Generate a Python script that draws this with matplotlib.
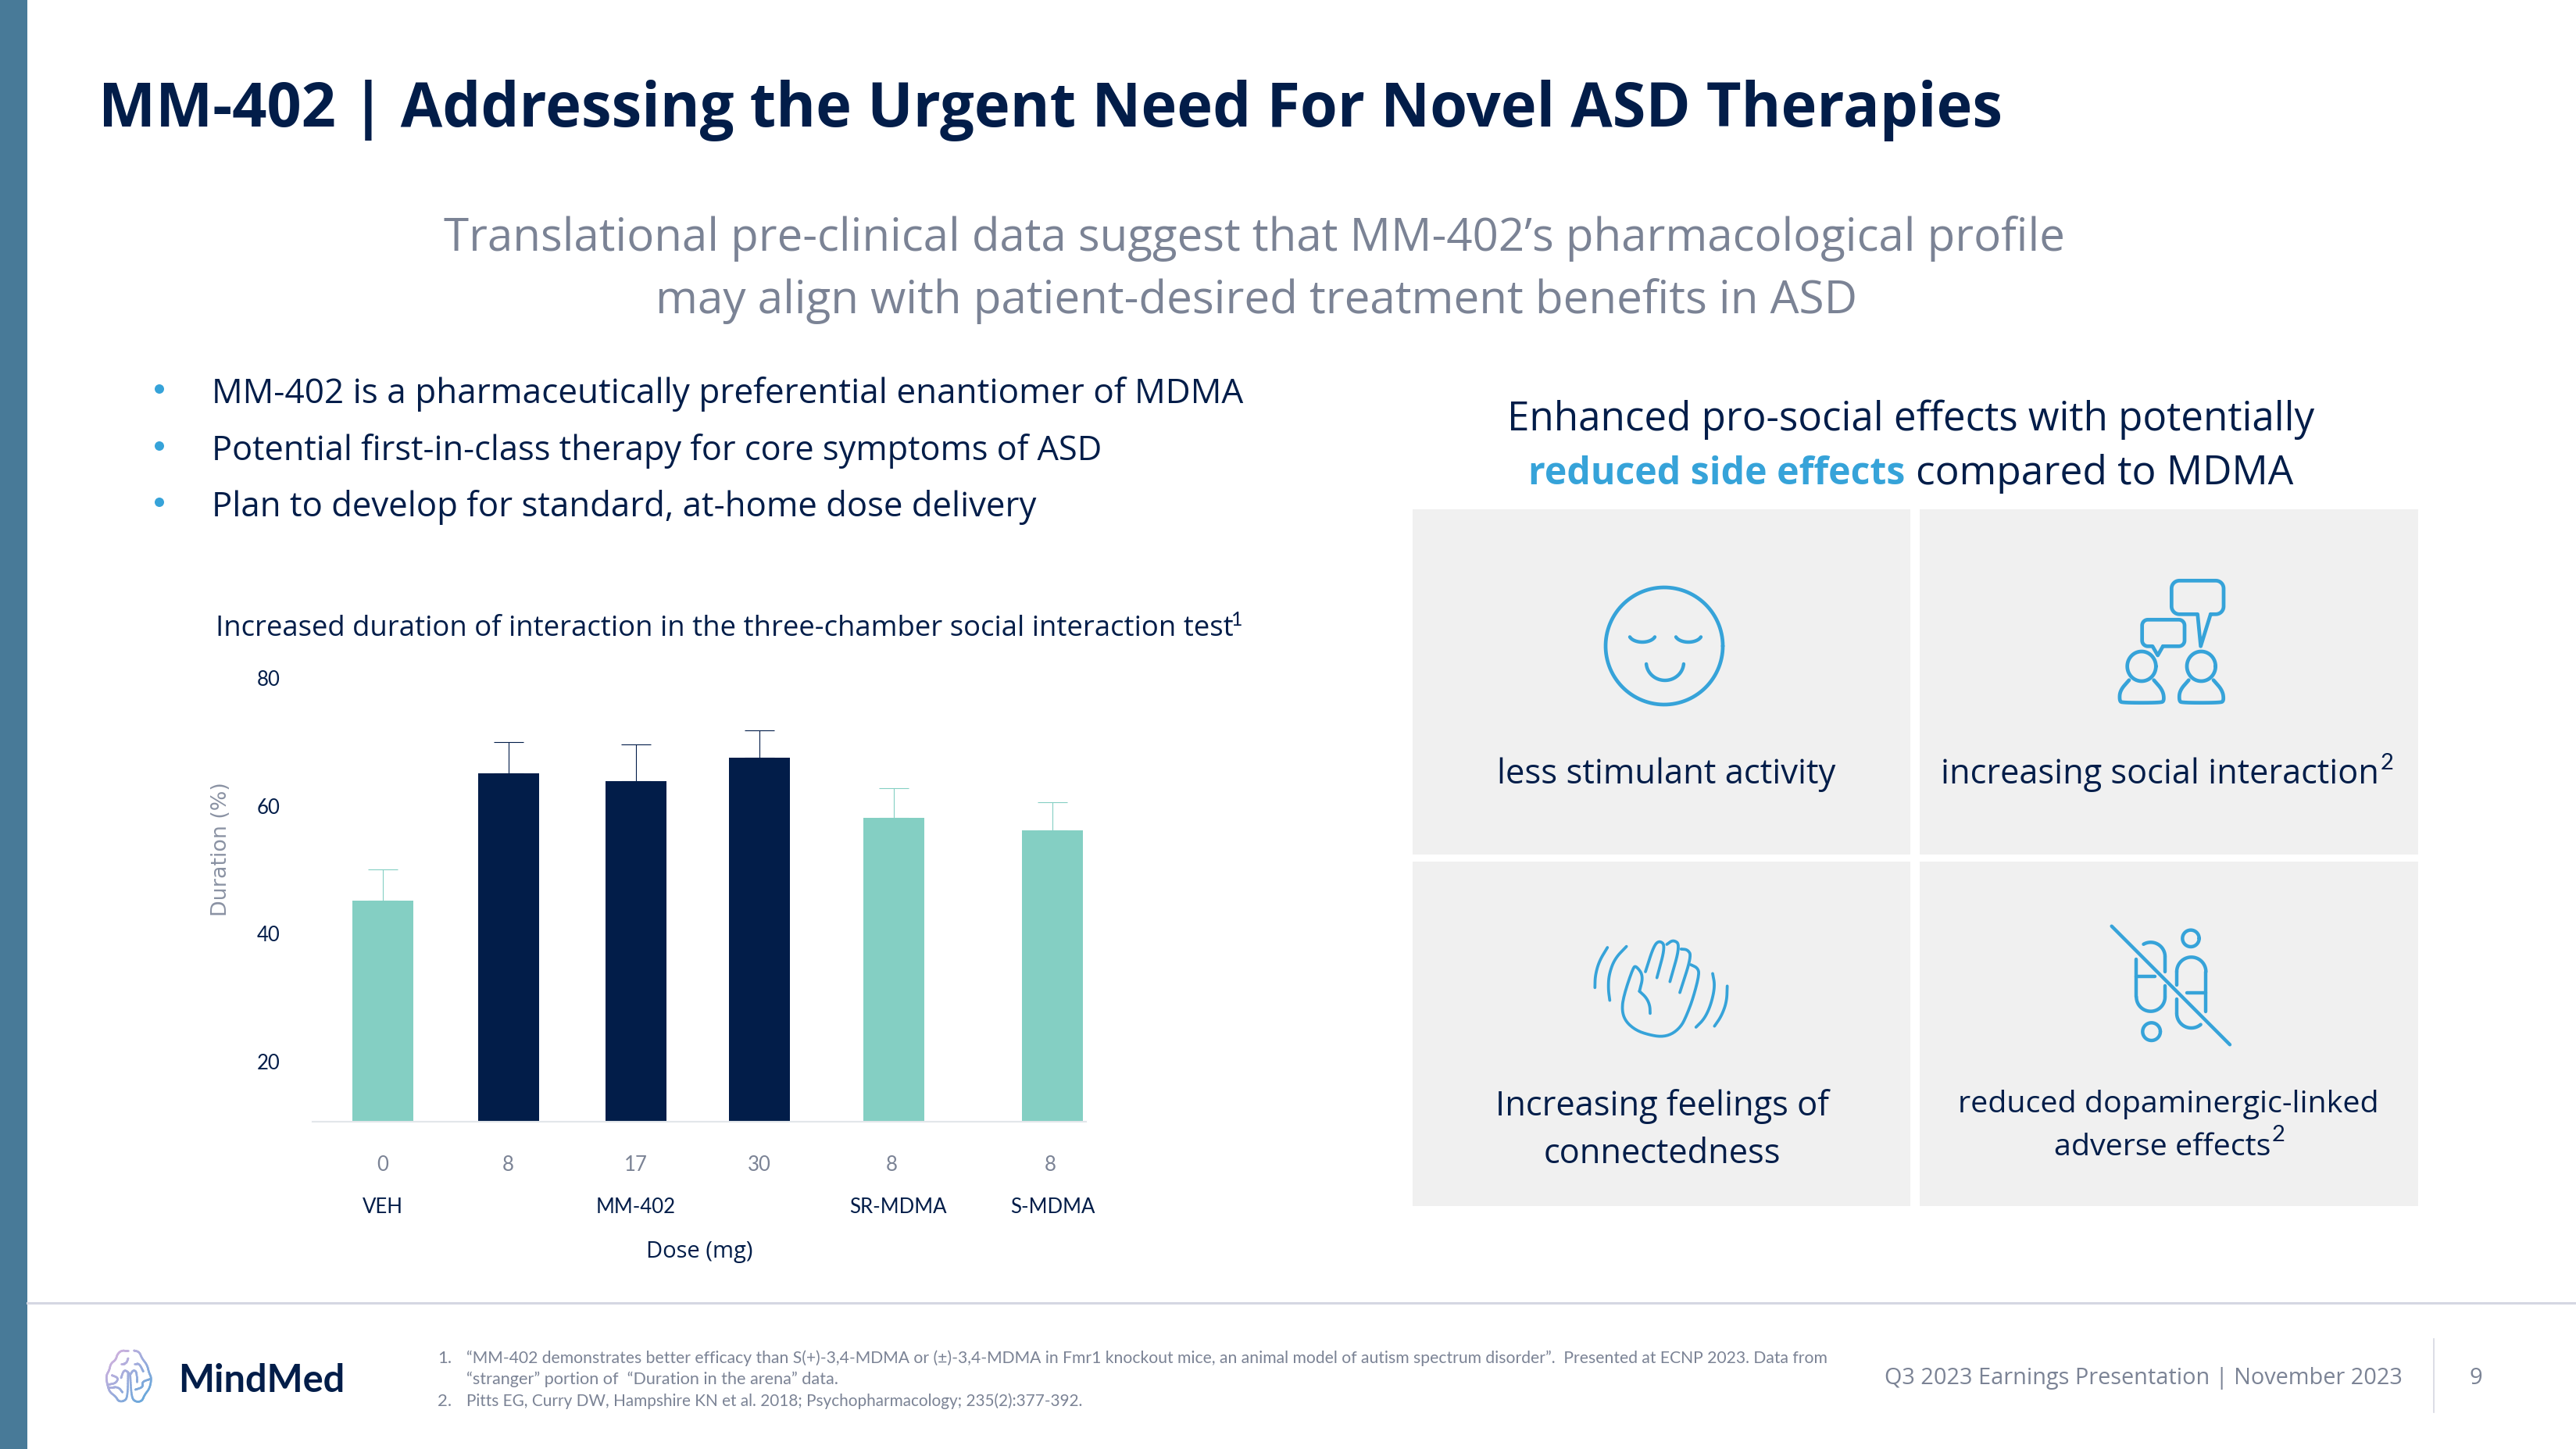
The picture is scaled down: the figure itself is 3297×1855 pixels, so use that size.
import numpy as np
import matplotlib
matplotlib.use("Agg")
import matplotlib.pyplot as plt
from matplotlib.patches import Rectangle, Circle
from matplotlib.collections import LineCollection
from matplotlib.colors import to_rgb

# ---------- chart data ----------
dose_labels = ["0", "8", "17", "30", "8", "8"]
dose_slots = [0, 1.0, 2.025, 3.01, 4.07, 5.34]
group_labels = ["VEH", "MM-402", "SR-MDMA", "S-MDMA"]
group_slots = [0, 2.025, 4.12, 5.356]
bar_slots = [0, 1.006, 2.025, 3.01, 4.09, 5.356]
duration = [45.1, 65.0, 63.7, 67.4, 58.0, 56.0]
err_top = [50.0, 69.8, 69.5, 71.7, 62.7, 60.4]
y_ticks = [20, 40, 60, 80]
is_mm402 = [False, True, True, True, False, False]

NAVY = "#021D49"
TEAL = "#84CFC3"
GRAY = "#7B8395"
BLUE = "#36A3D9"
PANEL = "#F0F0F0"
BAND = "#487A98"
RULE = "#D5D7E2"
W, H = 3298, 1856
FONT = "Open Sans"
NARROW = "Lato"

fig = plt.figure(figsize=(W / 100, H / 100), dpi=100, facecolor="white")
ov = fig.add_axes([0, 0, 1, 1])
ov.set_xlim(0, W)
ov.set_ylim(H, 0)
ov.axis("off")
rend = fig.canvas.get_renderer()


def T(x0, x1, base, s, color=NAVY, weight="normal", family=FONT, size=30):
    """Text from x0 to x1 at a baseline, font size fitted to that width."""
    t = ov.text(x0, base, s, color=color, weight=weight, family=family,
                fontsize=size, ha="left", va="baseline")
    for _ in range(3):
        w = t.get_window_extent(rend).width
        t.set_fontsize(t.get_fontsize() * (x1 - x0) / w)
    return t


# ---------- slide furniture ----------
ov.add_patch(Rectangle((0, 0), 35, H, color=BAND, lw=0))
ov.plot([35, W], [1669, 1669], color=RULE, lw=2.2)
ov.plot([3115, 3115], [1715, 1809], color=RULE, lw=1.2)

T(126, 2562, 162, "MM-402 | Addressing the Urgent Need For Novel ASD Therapies", weight="bold")
T(568, 2646, 321, "Translational pre-clinical data suggest that MM-402\u2019s pharmacological profile", GRAY)
T(839, 2379, 401, "may align with patient-desired treatment benefits in ASD", GRAY)

bullets = [("MM-402 is a pharmaceutically preferential enantiomer of MDMA", 1592, 516),
           ("Potential first-in-class therapy for core symptoms of ASD", 1411, 589),
           ("Plan to develop for standard, at-home dose delivery", 1323, 661)]
for s, x1, b in bullets:
    T(271, x1, b, s)
    ov.add_patch(Circle((204, b - 17), 6, color=BLUE, lw=0))

T(1929, 2961, 551, "Enhanced pro-social effects with potentially")
T(1956, 2438, 620, "reduced side effects", BLUE, "bold")
T(2452, 2936, 620, "compared to MDMA")

T(276, 1575, 814, "Increased duration of interaction in the three-chamber social interaction test")
ov.text(1576, 801, "1", color=NAVY, family=NARROW, fontsize=18, ha="left", va="baseline")

# ---------- panels ----------
for x0, x1 in [(1808, 2445), (2457, 3095)]:
    for y0, y1 in [(653, 1095), (1104, 1545)]:
        ov.add_patch(Rectangle((x0, y0), x1 - x0, y1 - y0, color=PANEL, lw=0))

T(1916, 2351, 1003, "less stimulant activity")
T(2484, 3045, 1003, "increasing social interaction")
ov.text(3047, 985, "2", color=NAVY, family=NARROW, fontsize=21, ha="left", va="baseline")
T(1914, 2341, 1428, "Increasing feelings of")
T(1976, 2278, 1489, "connectedness")
T(2506, 3045, 1424, "reduced dopaminergic-linked")
T(2629, 2906, 1479, "adverse effects")
ov.text(2908, 1461, "2", color=NAVY, family=NARROW, fontsize=21, ha="left", va="baseline")


# ---------- icons ----------
def chaikin(pts, n=3):
    p = np.asarray(pts, float)
    for _ in range(n):
        q = 0.75 * p[:-1] + 0.25 * p[1:]
        r = 0.25 * p[:-1] + 0.75 * p[1:]
        m = np.empty((2 * len(q), 2))
        m[0::2], m[1::2] = q, r
        p = np.vstack([p[0], m, p[-1]])
    return p


def stroke(pts, org, lw=2.7, smooth=True, scale=3.0, color=BLUE):
    p = chaikin(pts) if smooth else np.asarray(pts, float)
    ov.plot(org[0] + p[:, 0] / scale, org[1] + p[:, 1] / scale, color=color, lw=lw,
            solid_capstyle="round", solid_joinstyle="round")


def arc(cx, cy, rx, ry, a0, a1, n=40):
    a = np.radians(np.linspace(a0, a1, n))
    return np.column_stack([cx + rx * np.cos(a), cy + ry * np.sin(a)])


# smiley
o = (0, 0)
stroke(arc(2130, 828, 75, 75, 0, 360, 120), o, 3.4, False, 1)
stroke(arc(2102, 813, 17, 10, 160, 20), o, 3.2, False, 1)
stroke(arc(2161, 813, 17, 10, 160, 20), o, 3.2, False, 1)
stroke(arc(2131, 849, 24, 23, 175, 5), o, 3.2, False, 1)

# people and speech bubbles
o = (2700, 730)


def bubble(x0, y0, x1, y1, r, tl, tip, tr):
    p = [np.array([[tr, y1]]), arc(x1 - r, y1 - r, r, r, 90, 0, 10), arc(x1 - r, y0 + r, r, r, 0, -90, 10),
         arc(x0 + r, y0 + r, r, r, -90, -180, 10), arc(x0 + r, y1 - r, r, r, 180, 90, 10),
         np.array([[tl, y1], tip, [tr, y1]])]
    return np.vstack(p)


stroke(bubble(238, 43, 438, 172, 30, 338, (350, 295), 388), o, 3.4, False)
stroke(bubble(125, 193, 288, 295, 22, 165, (185, 330), 205), o, 3.4, False)
for dx in (0, 229):
    stroke(arc(123 + dx, 372, 55, 57, 0, 360, 60), o, 3.4, False)
    stroke([(75 + dx, 425), (40 + dx, 465), (38 + dx, 505), (50 + dx, 512), (195 + dx, 512),
            (210 + dx, 505), (205 + dx, 465), (170 + dx, 425)], o, 3.4)

# waving hand
o = (2020, 1190)
stroke([(235, 240), (250, 180), (222, 142), (210, 150), (172, 265), (168, 320), (185, 360), (225, 392),
        (275, 408), (320, 415), (360, 405), (395, 375), (415, 335), (440, 270), (465, 175), (458, 150),
        (432, 138)], o)
stroke([(258, 165), (290, 65), (312, 45), (335, 65), (302, 188)], o)
stroke([(340, 60), (365, 42), (392, 62), (352, 203)], o)
stroke([(395, 78), (420, 80), (435, 105), (390, 245)], o)
stroke([(235, 240), (262, 265), (275, 295), (276, 325)], o)
stroke([(112, 72), (80, 125), (65, 180), (64, 226)], o)
stroke([(185, 68), (140, 115), (118, 175), (115, 230), (121, 275)], o)
stroke([(516, 172), (525, 220), (510, 290), (485, 345), (452, 378)], o)
stroke([(572, 220), (570, 280), (550, 335), (523, 374)], o)

# crossed-out pills
o = (2690, 1170)
stroke([(38, 50), (492, 505)], o, 3.2, False)
stroke(arc(342, 97, 32, 32, 0, 360, 60), o, 3.2, False)
stroke(arc(191, 455, 34, 34, 0, 360, 60), o, 3.2, False)
for seg in ([(132, 178), (132, 243), (205, 243)], [(243, 225), (243, 167)], [(132, 243), (132, 322)],
            [(288, 275), (288, 225)], [(400, 225), (400, 378)], [(328, 307), (400, 307)], [(288, 330), (288, 385)],
            [(243, 280), (243, 322)]):
    stroke(seg, o, 3.2, False)
stroke(arc(188, 167, 55, 55, -120, 0), o, 3.2, False)
stroke(arc(188, 322, 55, 55, 0, 180), o, 3.2, False)
stroke(arc(344, 225, 56, 56, 180, 360), o, 3.2, False)
stroke(arc(344, 385, 56, 56, 180, 50), o, 3.2, False)

# ---------- brain logo ----------
o = np.array([120, 1715])
c0, c1 = np.array(to_rgb("#E2B2DE")), np.array(to_rgb("#5AA6DA"))
brain = [
    [(132, 45), (105, 45), (90, 60), (85, 80), (65, 95), (60, 120), (48, 140), (50, 165), (55, 185), (62, 205),
     (85, 222), (95, 240), (115, 240), (130, 225), (132, 130)],
    [(155, 45), (175, 50), (185, 75), (205, 100), (212, 130), (222, 150), (215, 190), (195, 215), (185, 240),
     (160, 242), (145, 225), (140, 140)],
    [(105, 95), (125, 95), (132, 75)], [(70, 140), (95, 150), (85, 170), (60, 175)],
    [(105, 150), (115, 120), (130, 125), (140, 140), (150, 120), (165, 125), (165, 165)],
    [(190, 125), (175, 95), (155, 95)], [(215, 155), (185, 165), (190, 185), (160, 195)],
    [(55, 185), (95, 185), (110, 205)]]
for b in brain:
    p = chaikin(b) / 3.0 + o
    segs = np.stack([p[:-1], p[1:]], axis=1)
    f = np.clip(((p[:-1, 0] - 134) / 61 + (p[:-1, 1] - 1728) / 68) / 2, 0, 1)[:, None]
    ov.add_collection(LineCollection(segs, colors=c0 * (1 - f) + c1 * f, linewidths=1.9, capstyle="round"))

T(228, 441, 1782, "MindMed", weight="bold", family=NARROW)

# ---------- footer ----------
ov.text(560, 1745, "1.", color=GRAY, family=NARROW, fontsize=16, ha="left", va="baseline")
ov.text(560, 1800, "2.", color=GRAY, family=NARROW, fontsize=16, ha="left", va="baseline")
T(597, 2332, 1745, "\u201cMM-402 demonstrates better efficacy than S(+)-3,4-MDMA or (\u00b1)-3,4-MDMA in Fmr1 knockout mice, "
  "an animal model of autism spectrum disorder\u201d.  Presented at ECNP 2023. Data from", GRAY, family=NARROW)
T(597, 1072, 1772, "\u201cstranger\u201d portion of  \u201cDuration in the arena\u201d data.", GRAY, family=NARROW)
T(597, 1387, 1800, "Pitts EG, Curry DW, Hampshire KN et al. 2018; Psychopharmacology; 235(2):377-392.", GRAY, family=NARROW)
T(2412, 3075, 1772, "Q3 2023 Earnings Presentation | November 2023", GRAY)
ov.text(3161, 1772, "9", color=GRAY, family=FONT, fontsize=21, ha="left", va="baseline")

# ---------- bar chart ----------
AX_L, AX_R, AX_T, AX_B = 400, 1390, 868, 1437
ax = fig.add_axes([AX_L / W, 1 - AX_B / H, (AX_R - AX_L) / W, (AX_B - AX_T) / H])
ax.patch.set_alpha(0)
ax.set_xlim((AX_L - 490) / 160, (AX_R - 490) / 160)
ax.set_ylim(10.47, 80)
colors = [NAVY if m else TEAL for m in is_mm402]
ax.bar(bar_slots, duration, width=0.4875, color=colors, linewidth=0, zorder=2)
for x, v, e, c in zip(bar_slots, duration, err_top, colors):
    ax.errorbar(x, v, yerr=[[0], [e - v]], color=c, elinewidth=0.8, capsize=13.5, capthick=0.8, zorder=1)
for s in ("left", "top", "right"):
    ax.spines[s].set_visible(False)
ax.spines["bottom"].set_color("#E3E6EA")
ax.spines["bottom"].set_linewidth(1.5)
ax.set_yticks(y_ticks)
ax.set_yticklabels([str(v) for v in y_ticks], family=NARROW, fontsize=18.5, color=NAVY)
ax.set_xticks(dose_slots)
ax.set_xticklabels(dose_labels, family=NARROW, fontsize=18.5, color=GRAY)
ax.tick_params(axis="x", length=0, pad=30)
ax.tick_params(axis="y", length=0, pad=30)
ax.set_ylabel("Duration (%)", family="DejaVu Sans", fontsize=19.4, color="#8A92A3")
ax.yaxis.set_label_coords((296 - AX_L) / (AX_R - AX_L), (AX_B - 1087) / (AX_B - AX_T))
ax.set_xlabel("Dose (mg)", family=FONT, fontsize=21, color=NAVY)
ax.xaxis.set_label_coords((895 - AX_L) / (AX_R - AX_L), (AX_B - 1603) / (AX_B - AX_T))
ax.xaxis.label.set_verticalalignment("center")
for x, s in zip(group_slots, group_labels):
    ax.text(x, (AX_B - 1546) / (AX_B - AX_T), s, transform=ax.get_xaxis_transform(), ha="center", va="center",
            family=NARROW, fontsize=18.5, color=NAVY)

fig.savefig("out.png", dpi=100, facecolor="white")
